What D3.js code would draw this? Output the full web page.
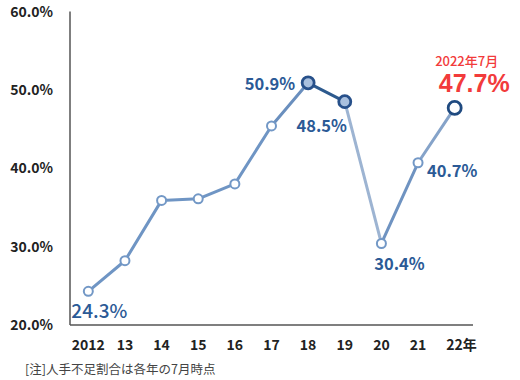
<!DOCTYPE html>
<html>
<head>
<meta charset="utf-8">
<script src="https://cdn.jsdelivr.net/npm/d3@7"></script>
<style>
  html, body { margin: 0; padding: 0; background: #ffffff; }
  svg { display: block; }
</style>
</head>
<body>
<svg id="chart" width="520" height="380"></svg>
<script>
// ---- data ----
const years = ["2012", "13", "14", "15", "16", "17", "18", "19", "20", "21", "22"];
const values = [24.3, 28.2, 35.9, 36.1, 38.0, 45.4, 50.9, 48.5, 30.4, 40.7, 47.7];
const yTicks = [20, 30, 40, 50, 60];
const yearSuffix = "年";
const latestNote = "2022年7月";
const footnote = "[注]人手不足割合は各年の7月時点";

// ---- styles / layout ----
const plotL = 70, plotR = 473, plotT = 11.5, plotB = 325;
const segColors = ["#6f95c4", "#6f95c4", "#6f95c4", "#6f95c4", "#6f95c4", "#6a8fbe",
                   "#2d5a8e", "#9db4d2", "#6f93c1", "#85a3c9"];
const big = { 6: { fill: "#a9c0de", stroke: "#27508a", r: 6 }, 7: { fill: "#a9c0de", stroke: "#27508a", r: 6 }, 10: { fill: "#ffffff", stroke: "#1f4a80", r: 6.5 } };
const labelCfg = {
  0: { dx: -17, dy: 27, anchor: "start", size: 19, weight: 500 },
  6: { dx: -13, dy: 7, anchor: "end", size: 16.5, weight: 700 },
  7: { dx: -23, dy: 30, anchor: "middle", size: 16.5, weight: 700 },
  8: { dx: 18, dy: 27, anchor: "middle", size: 16.5, weight: 700 },
  9: { dx: 9, dy: 14, anchor: "start", size: 16.5, weight: 700 }
};
const font = "'Noto Sans CJK JP', 'Noto Sans', sans-serif";
const latinBold = "'Liberation Sans', Arial, sans-serif";

const svg = d3.select("#chart");

const x = d3.scalePoint().domain(years).range([plotL, plotR]).padding(0.5);
const y = d3.scaleLinear().domain([20, 60]).range([plotB, plotT]);

// axes lines
svg.append("line").attr("x1", plotL).attr("x2", plotL).attr("y1", plotT).attr("y2", plotB)
  .attr("stroke", "#555").attr("stroke-width", 1.5);
svg.append("line").attr("x1", plotL).attr("x2", plotR).attr("y1", plotB).attr("y2", plotB)
  .attr("stroke", "#555").attr("stroke-width", 1.5);

// y tick labels
svg.append("g").selectAll("text").data(yTicks).join("text")
  .attr("x", 53).attr("y", d => y(d)).attr("dy", "0.36em")
  .attr("text-anchor", "end")
  .attr("font-family", font).attr("font-weight", 700).attr("font-size", 14)
  .attr("fill", "#222")
  .text(d => d.toFixed(1) + "%");

// x tick labels
svg.append("g").selectAll("text").data(years).join("text")
  .attr("x", d => x(d)).attr("y", 350)
  .attr("text-anchor", "middle")
  .attr("font-family", font).attr("font-weight", 700).attr("font-size", 14)
  .attr("fill", "#222")
  .each(function(d, i) {
    const t = d3.select(this);
    if (i === years.length - 1) {
      t.attr("text-anchor", "start").attr("x", x(d) - 8.5);
      t.append("tspan").text(d);
      t.append("tspan").text(yearSuffix);
    } else {
      t.text(d);
    }
  });

// line segments
const pts = years.map((d, i) => [x(d), y(values[i])]);
svg.append("g").selectAll("line").data(d3.pairs(pts)).join("line")
  .attr("x1", d => d[0][0]).attr("y1", d => d[0][1])
  .attr("x2", d => d[1][0]).attr("y2", d => d[1][1])
  .attr("stroke", (d, i) => segColors[i]).attr("stroke-width", 3)
  .attr("stroke-linecap", "round");

// markers
svg.append("g").selectAll("circle").data(values).join("circle")
  .attr("cx", (d, i) => x(years[i])).attr("cy", d => y(d))
  .attr("r", (d, i) => big[i] ? big[i].r : 4.5)
  .attr("fill", (d, i) => big[i] ? big[i].fill : "#ffffff")
  .attr("stroke", (d, i) => big[i] ? big[i].stroke : "#7398c6")
  .attr("stroke-width", (d, i) => big[i] ? 2.8 : 2);

// data labels
Object.keys(labelCfg).forEach(k => {
  const i = +k, c = labelCfg[k];
  svg.append("text")
    .attr("x", x(years[i]) + c.dx).attr("y", y(values[i]) + c.dy)
    .attr("text-anchor", c.anchor)
    .attr("font-family", font).attr("font-weight", c.weight).attr("font-size", c.size)
    .attr("fill", "#2b5a96")
    .text(values[i].toFixed(1) + "%");
});

// latest value highlight
const li = values.length - 1;
svg.append("text")
  .attr("x", x(years[li]) + 12).attr("y", y(values[li]) - 42)
  .attr("text-anchor", "middle")
  .attr("font-family", font).attr("font-weight", 500).attr("font-size", 13)
  .attr("fill", "#f23b3b")
  .text(latestNote);
svg.append("text")
  .attr("x", x(years[li]) + 19.5).attr("y", y(values[li]) - 15.5)
  .attr("text-anchor", "middle")
  .attr("font-family", latinBold).attr("font-weight", 700).attr("font-size", 25)
  .attr("fill", "#f23b3b")
  .text(values[li].toFixed(1) + "%");

// footnote
svg.append("text")
  .attr("x", 25).attr("y", 374)
  .attr("font-family", font).attr("font-weight", 400).attr("font-size", 12.5)
  .attr("fill", "#444")
  .text(footnote);
</script>
</body>
</html>
